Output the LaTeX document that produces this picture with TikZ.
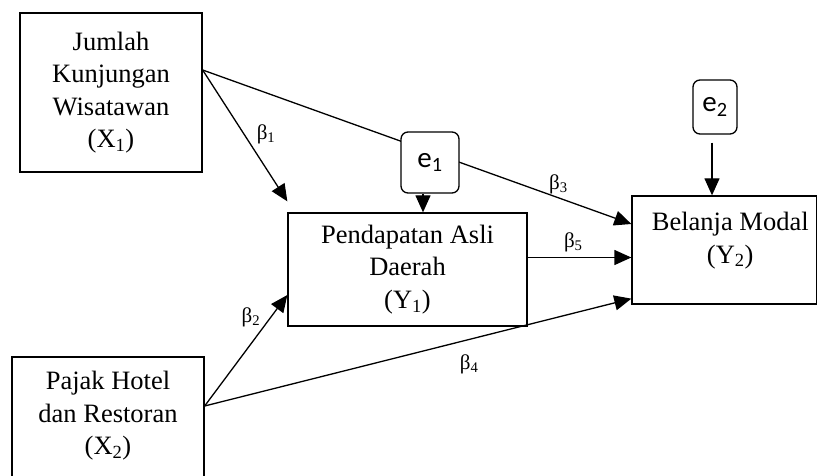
\documentclass[tikz,border=0pt]{standalone}
\usepackage{fontspec}
\setmainfont{Liberation Serif}
\newfontfamily\errfont{Carlito}
\usetikzlibrary{arrows.meta,positioning}

\begin{document}
\begin{tikzpicture}[x=1pt, y=-1pt, ->, >={Triangle[length=17pt,width=15pt]}, line width=1.3pt,
    var text/.style={align=center, font=\fontsize{26.5}{32.5}\selectfont},
    var node/.style={rectangle, draw, var text, inner sep=0pt},
    err node/.style={rectangle, draw, rounded corners=7pt, fill=white, inner sep=0pt, font=\errfont\fontsize{29}{30}\selectfont},
    coef/.style={font=\fontsize{21}{24}\selectfont, inner sep=1pt}]

    \useasboundingbox (0,0) rectangle (817,476);

    \node[var node, minimum width=182pt, minimum height=159pt] (X1) at (111,92.5) {Jumlah\\Kunjungan\\Wisatawan\\(X\textsubscript{1})};
    \node[var node, minimum width=192pt, minimum height=143pt,
        label={[var text, yshift=12.5pt]center:Pajak Hotel\\dan Restoran\\(X\textsubscript{2})}] (X2) at (108,428.5) {};
    \node[var node, minimum width=239pt, minimum height=113pt] (Y1) at (407.5,269.5) {Pendapatan Asli\\Daerah\\(Y\textsubscript{1})};
    \node[var node, minimum width=184.5pt, minimum height=108pt,
        label={[var text, xshift=6pt, yshift=9.5pt]center:Belanja Modal\\(Y\textsubscript{2})}] (Y2) at (724.25,250) {};
    \node[err node, minimum width=44pt, minimum height=54pt] (e2) at (715,107) {e\textsubscript{2}};

    % paths from X1
    \draw ([yshift=22.5pt]X1.east) -- node[coef, pos=0.83, above=2pt] {β\textsubscript{3}} ([yshift=26pt]Y2.west);
    \draw ([yshift=22.5pt]X1.east) -- node[coef, pos=0.49, right=11pt] {β\textsubscript{1}} ([yshift=11pt]Y1.north west);

    % paths from X2
    \draw ([yshift=22.5pt]X2.east) -- node[coef, pos=0.8, left=9pt] {β\textsubscript{2}} ([yshift=-25.5pt]Y1.west);
    \draw ([yshift=22.5pt]X2.east) -- node[coef, pos=0.62, below=14pt] {β\textsubscript{4}} ([yshift=6pt]Y2.south west);

    % Y1 to Y2
    \draw ([yshift=12pt]Y1.east) -- node[coef, pos=0.44, above=4pt] {β\textsubscript{5}} ([yshift=12pt]Y1.east -| Y2.west);

    % error terms
    \node[err node, minimum width=58pt, minimum height=61pt] (e1) at (430,162.5) {e\textsubscript{1}};
    \draw ([xshift=-7pt]e1.south) -- ([xshift=-7pt]e1.south |- Y1.north);
    \draw[shorten <=8pt] ([xshift=-3pt]e2.south) -- ([xshift=-3pt]e2.south |- Y2.north);

\end{tikzpicture}
\end{document}
